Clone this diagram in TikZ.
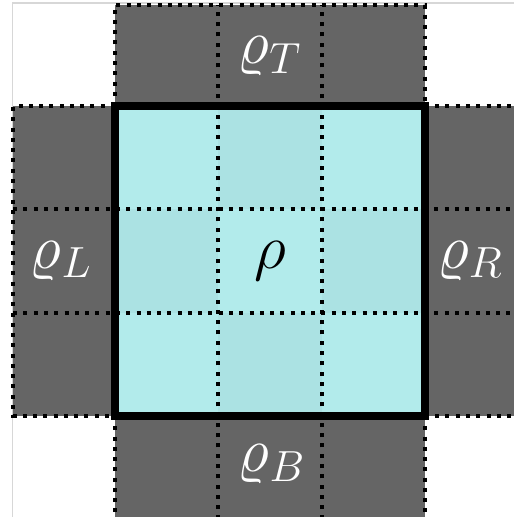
\documentclass[tikz,border=0pt]{standalone}
\usepackage{amsmath, amssymb}
\usepackage{xcolor}
\usepackage{tikz}
\usetikzlibrary{positioning, calc}

\definecolor{haloGray}{RGB}{101,101,101}
\definecolor{cellLight}{RGB}{178,235,235}
\definecolor{cellDark}{RGB}{171,226,227}
\definecolor{frameGray}{RGB}{215,215,215}

\begin{document}
\begin{tikzpicture}[
            font=\LARGE,
            halo/.style={fill=haloGray, draw=none},
            dotline/.style={line width=1.1pt, dash pattern=on 1.1pt off 1.73pt, black},
            border/.style={line width=2.2pt, black},
            frame/.style={line width=0.3pt, frameGray},
            lbl/.style={text=white, inner sep=0pt},
            mainlbl/.style={text=black, inner sep=0pt}
        ]
            % canvas
            \clip (-1.113,-0.978) rectangle (3.862,4.027);
            \draw[frame] (-0.995,-1.2) -- (-0.995,3.998) -- (4.2,3.998);

            % neighbouring strips
            \fill[halo] (0,3) rectangle (3,3.98);
            \fill[halo] (-0.985,0) rectangle (0,3);
            \fill[halo] (3,0) rectangle (4,3);
            \fill[halo] (0,-1.2) rectangle (3,0);

            % central block, checkerboard
            \foreach \i in {0,1,2} {
                \foreach \j in {0,1,2} {
                    \pgfmathparse{int(mod(\i+\j,2))}
                    \ifnum\pgfmathresult=0
                        \fill[cellLight] (\i,\j) rectangle ++(1,1);
                    \else
                        \fill[cellDark] (\i,\j) rectangle ++(1,1);
                    \fi
                }
            }

            % dotted grid
            \foreach \k in {1,2} {
                \draw[dotline] (-0.985,\k) -- (4,\k);
                \draw[dotline] (\k,-1.2) -- (\k,3.98);
            }
            \draw[dotline] (0,3) -- (0,3.98) -- (3,3.98) -- (3,3);
            \draw[dotline] (0,3) -- (-0.985,3) -- (-0.985,0) -- (0,0);
            \draw[dotline] (3,3) -- (4,3);
            \draw[dotline] (3,0) -- (4,0);
            \draw[dotline] (0,0) -- (0,-1.2);
            \draw[dotline] (3,0) -- (3,-1.2);

            \draw[border] (0,0) rectangle (3,3);

            % labels
            \node[mainlbl] (rho) at (1.5,1.5) {$\rho$};
            \node[lbl] (rhoT) at (1.5,3.48) {$\varrho_T$};
            \node[lbl] (rhoL) at (-0.52,1.5) {$\varrho_L$};
            \node[lbl] (rhoR) at (3.44,1.5) {$\varrho_R$};
            \node[lbl] (rhoB) at (1.52,-0.47) {$\varrho_B$};
        \end{tikzpicture}
\end{document}
